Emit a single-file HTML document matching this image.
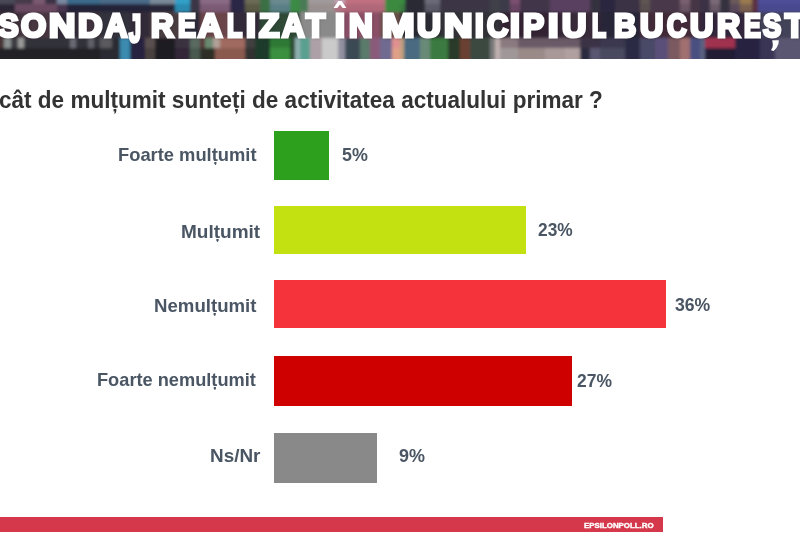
<!DOCTYPE html>
<html><head><meta charset="utf-8">
<style>
*{margin:0;padding:0;box-sizing:border-box}
html,body{width:800px;height:534px;overflow:hidden;background:#fff}
body{position:relative;font-family:"Liberation Sans",sans-serif}
#hdr{position:absolute;left:0;top:0;width:800px;height:58.5px;background:#3a3242;overflow:hidden}
#hdr svg{position:absolute;left:0;top:0}
#htxt{position:absolute;left:0;top:10.57px;width:800px;height:40px;color:#fff;font-weight:bold;font-size:33.5px;line-height:33.5px}
#htxt span{position:absolute;top:0;transform-origin:0 0;-webkit-text-stroke:3.2px #fff;white-space:nowrap;text-shadow:1px 1px 3px rgba(0,0,0,.45)}
.q{position:absolute;white-space:nowrap;color:#333;font-weight:bold;font-size:24.3px;line-height:28px;transform-origin:0 0}
.t{position:absolute;white-space:nowrap;color:#4a5664;font-weight:bold;font-size:18.5px;line-height:22px;transform-origin:0 0}
.bar{position:absolute;left:274px}
#foot{position:absolute;left:0;top:517px;width:662.6px;height:15.4px;background:#d4384a}
#ftxt{position:absolute;left:584px;top:520.5px;color:#fff;font-weight:bold;font-size:8px;line-height:10px;white-space:nowrap;-webkit-text-stroke:0.4px #fff;transform:scaleX(0.985);transform-origin:0 0}
</style></head><body>
<div id="hdr">
<svg width="820" height="78" viewBox="-10 -10 820 78" style="position:absolute;left:-10px;top:-10px"><defs><filter id="bl" x="-5%" y="-20%" width="110%" height="140%"><feGaussianBlur stdDeviation="1.5"/></filter></defs><g filter="url(#bl)"><rect x="-10" y="-10" width="25" height="14" fill="#4a4a58"/><rect x="15" y="-10" width="18" height="14" fill="#453a4a"/><rect x="33" y="-10" width="12" height="14" fill="#7a5a70"/><rect x="45" y="-10" width="12" height="14" fill="#3a3045"/><rect x="57" y="-10" width="10" height="14" fill="#7a88a0"/><rect x="67" y="-10" width="33" height="14" fill="#3a6a8a"/><rect x="100" y="-10" width="50" height="14" fill="#4a6a88"/><rect x="150" y="-10" width="25" height="14" fill="#7a8a9a"/><rect x="175" y="-10" width="15" height="14" fill="#30a0c8"/><rect x="190" y="-10" width="10" height="14" fill="#3a3545"/><rect x="200" y="-10" width="30" height="14" fill="#8a6a85"/><rect x="230" y="-10" width="15" height="14" fill="#2a2845"/><rect x="245" y="-10" width="15" height="14" fill="#6a6a55"/><rect x="260" y="-10" width="10" height="14" fill="#3a7045"/><rect x="270" y="-10" width="20" height="14" fill="#6a8a90"/><rect x="290" y="-10" width="10" height="14" fill="#3a8a45"/><rect x="300" y="-10" width="8" height="14" fill="#4a7a55"/><rect x="308" y="-10" width="27" height="14" fill="#a09a9a"/><rect x="335" y="-10" width="10" height="14" fill="#c0a0b0"/><rect x="345" y="-10" width="40" height="14" fill="#c07080"/><rect x="385" y="-10" width="15" height="14" fill="#3a8a40"/><rect x="400" y="-10" width="5" height="14" fill="#3a8a40"/><rect x="405" y="-10" width="20" height="14" fill="#2a2a35"/><rect x="425" y="-10" width="15" height="14" fill="#6a6a78"/><rect x="440" y="-10" width="50" height="14" fill="#3a3545"/><rect x="490" y="-10" width="10" height="14" fill="#40404a"/><rect x="500" y="-10" width="10" height="14" fill="#3a3a48"/><rect x="510" y="-10" width="10" height="14" fill="#7a5070"/><rect x="520" y="-10" width="30" height="14" fill="#40354a"/><rect x="550" y="-10" width="40" height="14" fill="#5a4060"/><rect x="590" y="-10" width="10" height="14" fill="#353040"/><rect x="600" y="-10" width="15" height="14" fill="#2a2840"/><rect x="615" y="-10" width="25" height="14" fill="#3a3045"/><rect x="640" y="-10" width="10" height="14" fill="#5e5452"/><rect x="650" y="-10" width="30" height="14" fill="#4a3848"/><rect x="680" y="-10" width="10" height="14" fill="#7a6070"/><rect x="690" y="-10" width="10" height="14" fill="#453545"/><rect x="700" y="-10" width="10" height="14" fill="#3a3045"/><rect x="710" y="-10" width="10" height="14" fill="#7a6a78"/><rect x="720" y="-10" width="10" height="14" fill="#353040"/><rect x="730" y="-10" width="10" height="14" fill="#6a5a5a"/><rect x="740" y="-10" width="12" height="14" fill="#9a7a50"/><rect x="752" y="-10" width="6" height="14" fill="#5a3040"/><rect x="758" y="-10" width="52" height="14" fill="#4d4d98"/><rect x="-10" y="4" width="25" height="8" fill="#2a2535"/><rect x="15" y="4" width="18" height="8" fill="#6a4a62"/><rect x="33" y="4" width="12" height="8" fill="#6a4a60"/><rect x="45" y="4" width="12" height="8" fill="#6a4a60"/><rect x="57" y="4" width="10" height="8" fill="#4a3550"/><rect x="67" y="4" width="33" height="8" fill="#222238"/><rect x="100" y="4" width="50" height="8" fill="#222238"/><rect x="150" y="4" width="25" height="8" fill="#262638"/><rect x="175" y="4" width="15" height="8" fill="#2a8ab0"/><rect x="190" y="4" width="10" height="8" fill="#3a3545"/><rect x="200" y="4" width="30" height="8" fill="#7a5a75"/><rect x="230" y="4" width="15" height="8" fill="#2a2845"/><rect x="245" y="4" width="15" height="8" fill="#5a5a45"/><rect x="260" y="4" width="10" height="8" fill="#3a7045"/><rect x="270" y="4" width="20" height="8" fill="#5a8085"/><rect x="290" y="4" width="10" height="8" fill="#3a8a45"/><rect x="300" y="4" width="8" height="8" fill="#4a7a55"/><rect x="308" y="4" width="27" height="8" fill="#9a9090"/><rect x="335" y="4" width="10" height="8" fill="#b07080"/><rect x="345" y="4" width="40" height="8" fill="#b06878"/><rect x="385" y="4" width="15" height="8" fill="#3a8a40"/><rect x="400" y="4" width="5" height="8" fill="#3a7a40"/><rect x="405" y="4" width="20" height="8" fill="#2a2a35"/><rect x="425" y="4" width="15" height="8" fill="#5a5a68"/><rect x="440" y="4" width="50" height="8" fill="#3a3545"/><rect x="490" y="4" width="10" height="8" fill="#40404a"/><rect x="500" y="4" width="10" height="8" fill="#3a3a48"/><rect x="510" y="4" width="10" height="8" fill="#6a4565"/><rect x="520" y="4" width="30" height="8" fill="#40354a"/><rect x="550" y="4" width="40" height="8" fill="#5a4060"/><rect x="590" y="4" width="10" height="8" fill="#353040"/><rect x="600" y="4" width="15" height="8" fill="#2a2840"/><rect x="615" y="4" width="25" height="8" fill="#3a3045"/><rect x="640" y="4" width="10" height="8" fill="#5a5050"/><rect x="650" y="4" width="30" height="8" fill="#4a3848"/><rect x="680" y="4" width="10" height="8" fill="#6a5565"/><rect x="690" y="4" width="10" height="8" fill="#453545"/><rect x="700" y="4" width="10" height="8" fill="#3a3045"/><rect x="710" y="4" width="10" height="8" fill="#6a5a68"/><rect x="720" y="4" width="10" height="8" fill="#353040"/><rect x="730" y="4" width="10" height="8" fill="#5a4a5a"/><rect x="740" y="4" width="12" height="8" fill="#7a6050"/><rect x="752" y="4" width="6" height="8" fill="#5a3040"/><rect x="758" y="4" width="52" height="8" fill="#4a4a90"/><rect x="-10" y="12" width="30" height="26" fill="#3a2e38"/><rect x="20" y="12" width="30" height="26" fill="#46343f"/><rect x="50" y="12" width="30" height="26" fill="#322a38"/><rect x="80" y="12" width="20" height="26" fill="#40323c"/><rect x="100" y="12" width="30" height="26" fill="#32323c"/><rect x="130" y="12" width="20" height="26" fill="#322a38"/><rect x="150" y="12" width="30" height="26" fill="#4a3c40"/><rect x="180" y="12" width="20" height="26" fill="#2a2a38"/><rect x="200" y="12" width="30" height="26" fill="#6a4448"/><rect x="230" y="12" width="30" height="26" fill="#322a38"/><rect x="260" y="12" width="40" height="26" fill="#2e4a36"/><rect x="300" y="12" width="40" height="26" fill="#8a8a8a"/><rect x="340" y="12" width="40" height="26" fill="#8a5066"/><rect x="380" y="12" width="20" height="26" fill="#6a5048"/><rect x="400" y="12" width="40" height="26" fill="#2a2a32"/><rect x="440" y="12" width="60" height="26" fill="#323238"/><rect x="500" y="12" width="60" height="26" fill="#322432"/><rect x="560" y="12" width="40" height="26" fill="#382a38"/><rect x="600" y="12" width="40" height="26" fill="#262638"/><rect x="640" y="12" width="60" height="26" fill="#422a38"/><rect x="700" y="12" width="60" height="26" fill="#32263e"/><rect x="760" y="12" width="50" height="26" fill="#424258"/><rect x="-10" y="38" width="14" height="10" fill="#4a3535"/><rect x="4" y="38" width="7" height="10" fill="#8a9090"/><rect x="11" y="38" width="7" height="10" fill="#3a3a40"/><rect x="18" y="38" width="6" height="10" fill="#9a9a9a"/><rect x="24" y="38" width="46" height="10" fill="#30303a"/><rect x="70" y="38" width="6" height="10" fill="#6a6a75"/><rect x="76" y="38" width="12" height="10" fill="#30303a"/><rect x="88" y="38" width="6" height="10" fill="#60606a"/><rect x="94" y="38" width="6" height="10" fill="#30303a"/><rect x="100" y="38" width="12" height="10" fill="#5a5a5e"/><rect x="112" y="38" width="8" height="10" fill="#2a2a30"/><rect x="120" y="38" width="10" height="10" fill="#3a8ab0"/><rect x="130" y="38" width="15" height="10" fill="#252040"/><rect x="145" y="38" width="10" height="10" fill="#5a5050"/><rect x="155" y="38" width="20" height="10" fill="#1e1e24"/><rect x="175" y="38" width="15" height="10" fill="#3a3040"/><rect x="190" y="38" width="10" height="10" fill="#5a6a60"/><rect x="200" y="38" width="5" height="10" fill="#5a3a3a"/><rect x="205" y="38" width="8" height="10" fill="#6a8a70"/><rect x="213" y="38" width="7" height="10" fill="#b0a098"/><rect x="220" y="38" width="25" height="10" fill="#a06a60"/><rect x="245" y="38" width="10" height="10" fill="#404040"/><rect x="255" y="38" width="15" height="10" fill="#1e3a2a"/><rect x="270" y="38" width="20" height="10" fill="#2e7a34"/><rect x="290" y="38" width="5" height="10" fill="#2a4a30"/><rect x="295" y="38" width="5" height="10" fill="#90b0b0"/><rect x="300" y="38" width="10" height="10" fill="#5aa090"/><rect x="310" y="38" width="12" height="10" fill="#ada0a6"/><rect x="322" y="38" width="16" height="10" fill="#cacaca"/><rect x="338" y="38" width="7" height="10" fill="#9090a0"/><rect x="345" y="38" width="15" height="10" fill="#3a4a55"/><rect x="360" y="38" width="10" height="10" fill="#5a7a6a"/><rect x="370" y="38" width="10" height="10" fill="#8a5a7a"/><rect x="380" y="38" width="12" height="10" fill="#706a90"/><rect x="392" y="38" width="8" height="10" fill="#e09090"/><rect x="400" y="38" width="4" height="10" fill="#c0a080"/><rect x="404" y="38" width="16" height="10" fill="#4a6a80"/><rect x="420" y="38" width="10" height="10" fill="#6a8a78"/><rect x="430" y="38" width="18" height="10" fill="#3a7a40"/><rect x="448" y="38" width="12" height="10" fill="#2a3a2a"/><rect x="460" y="38" width="10" height="10" fill="#6a4030"/><rect x="470" y="38" width="20" height="10" fill="#3a4a40"/><rect x="490" y="38" width="5" height="10" fill="#7a7a7a"/><rect x="495" y="38" width="5" height="10" fill="#c0b0b0"/><rect x="500" y="38" width="18" height="10" fill="#8a7a80"/><rect x="518" y="38" width="62" height="10" fill="#6a5a68"/><rect x="580" y="38" width="20" height="10" fill="#3a3045"/><rect x="600" y="38" width="25" height="10" fill="#3a3850"/><rect x="625" y="38" width="15" height="10" fill="#2a2a45"/><rect x="640" y="38" width="15" height="10" fill="#4a4a68"/><rect x="655" y="38" width="13" height="10" fill="#5a5078"/><rect x="668" y="38" width="12" height="10" fill="#7a5a60"/><rect x="680" y="38" width="10" height="10" fill="#a07070"/><rect x="690" y="38" width="10" height="10" fill="#4a5080"/><rect x="700" y="38" width="5" height="10" fill="#5a6080"/><rect x="705" y="38" width="30" height="10" fill="#a03050"/><rect x="735" y="38" width="25" height="10" fill="#252040"/><rect x="760" y="38" width="15" height="10" fill="#3a3555"/><rect x="775" y="38" width="35" height="10" fill="#5a5570"/><rect x="-10" y="48" width="110" height="20" fill="#222228"/><rect x="100" y="48" width="12" height="20" fill="#2a2a30"/><rect x="112" y="48" width="8" height="20" fill="#2a2a30"/><rect x="120" y="48" width="10" height="20" fill="#3a8ab0"/><rect x="130" y="48" width="15" height="20" fill="#252040"/><rect x="145" y="48" width="10" height="20" fill="#4a4040"/><rect x="155" y="48" width="20" height="20" fill="#1a1a20"/><rect x="175" y="48" width="15" height="20" fill="#302838"/><rect x="190" y="48" width="10" height="20" fill="#4a5a50"/><rect x="200" y="48" width="15" height="20" fill="#2e2e28"/><rect x="215" y="48" width="30" height="20" fill="#8a5a50"/><rect x="245" y="48" width="10" height="20" fill="#303030"/><rect x="255" y="48" width="15" height="20" fill="#1e3a2a"/><rect x="270" y="48" width="20" height="20" fill="#3a9040"/><rect x="290" y="48" width="5" height="20" fill="#2a4a30"/><rect x="295" y="48" width="5" height="20" fill="#90b0b0"/><rect x="300" y="48" width="10" height="20" fill="#5aa090"/><rect x="310" y="48" width="12" height="20" fill="#ada0a6"/><rect x="322" y="48" width="16" height="20" fill="#cacaca"/><rect x="338" y="48" width="7" height="20" fill="#9090a0"/><rect x="345" y="48" width="15" height="20" fill="#3a4a55"/><rect x="360" y="48" width="10" height="20" fill="#5a7a6a"/><rect x="370" y="48" width="10" height="20" fill="#8a5a7a"/><rect x="380" y="48" width="12" height="20" fill="#706a90"/><rect x="392" y="48" width="8" height="20" fill="#e0a088"/><rect x="400" y="48" width="4" height="20" fill="#c0a080"/><rect x="404" y="48" width="16" height="20" fill="#4a6a80"/><rect x="420" y="48" width="10" height="20" fill="#6a8a78"/><rect x="430" y="48" width="18" height="20" fill="#3a7a40"/><rect x="448" y="48" width="12" height="20" fill="#2a3a2a"/><rect x="460" y="48" width="10" height="20" fill="#6a4030"/><rect x="470" y="48" width="20" height="20" fill="#3a4a40"/><rect x="490" y="48" width="5" height="20" fill="#7a7a7a"/><rect x="495" y="48" width="5" height="20" fill="#c0b0b0"/><rect x="500" y="48" width="18" height="20" fill="#a09898"/><rect x="518" y="48" width="27" height="20" fill="#9a8a88"/><rect x="545" y="48" width="20" height="20" fill="#a89898"/><rect x="565" y="48" width="15" height="20" fill="#b0a0a0"/><rect x="580" y="48" width="10" height="20" fill="#2a2a40"/><rect x="590" y="48" width="10" height="20" fill="#5a5570"/><rect x="600" y="48" width="25" height="20" fill="#4a4860"/><rect x="625" y="48" width="15" height="20" fill="#2a2a45"/><rect x="640" y="48" width="15" height="20" fill="#4a4a68"/><rect x="655" y="48" width="13" height="20" fill="#5a5078"/><rect x="668" y="48" width="12" height="20" fill="#7a5a60"/><rect x="680" y="48" width="10" height="20" fill="#a07070"/><rect x="690" y="48" width="10" height="20" fill="#4a5080"/><rect x="700" y="48" width="5" height="20" fill="#5a6080"/><rect x="705" y="48" width="30" height="20" fill="#201a35"/><rect x="735" y="48" width="25" height="20" fill="#252040"/><rect x="760" y="48" width="15" height="20" fill="#3a3555"/><rect x="775" y="48" width="35" height="20" fill="#5a5570"/></g></svg>
<svg width="800" height="58" style="position:absolute;left:0;top:0"><path d="M772.2,40.3 L778.8,40.3 L778.4,44 Q777,48.3 773.6,51 L771,50.2 Q773.4,46.5 772.8,44 Z" fill="#fff"/><path d="M333.5,7.9 L338.3,0.9 L341.7,0.9 L346.4,7.9 L342.6,7.9 L340,4.6 L337.4,7.9 Z" fill="#fff"/></svg><div id="htxt" style="top:9.24px"><span style="left:-2.45px;transform:scaleX(0.923)">S</span><span style="left:20.65px;transform:scaleX(0.967)">O</span><span style="left:48.87px;transform:scaleX(1.089)">N</span><span style="left:77.92px;transform:scaleX(1.012)">D</span><span style="left:104.91px;transform:scaleX(0.928)">A</span><span style="left:129.41px;transform:scale(0.644,1.17)">J</span><span style="left:151.46px;transform:scaleX(0.940)">R</span><span style="left:178.34px;transform:scaleX(0.800)">E</span><span style="left:197.77px;transform:scaleX(1.006)">A</span><span style="left:226.77px;transform:scaleX(0.748)">L</span><span style="left:245.89px;transform:scaleX(1.055)">I</span><span style="left:259.39px;transform:scaleX(0.994)">Z</span><span style="left:282.21px;transform:scaleX(0.928)">A</span><span style="left:306.18px;transform:scaleX(0.936)">T</span><span style="left:334.78px;transform:scaleX(1.067)">I</span><span style="left:349.43px;transform:scaleX(0.980)">N</span><span style="left:382.33px;transform:scaleX(1.163)">M</span><span style="left:416.60px;transform:scaleX(0.987)">U</span><span style="left:444.32px;transform:scaleX(1.176)">N</span><span style="left:475.46px;transform:scaleX(0.931)">I</span><span style="left:487.23px;transform:scaleX(0.875)">C</span><span style="left:509.89px;transform:scaleX(1.055)">I</span><span style="left:523.46px;transform:scaleX(0.942)">P</span><span style="left:548.35px;transform:scaleX(1.117)">I</span><span style="left:562.09px;transform:scaleX(1.009)">U</span><span style="left:592.10px;transform:scaleX(0.685)">L</span><span style="left:614.47px;transform:scaleX(0.918)">B</span><span style="left:640.10px;transform:scaleX(0.966)">U</span><span style="left:666.91px;transform:scaleX(0.807)">C</span><span style="left:689.60px;transform:scaleX(0.966)">U</span><span style="left:716.95px;transform:scaleX(0.960)">R</span><span style="left:743.57px;transform:scaleX(0.750)">E</span><span style="left:763.49px;transform:scaleX(0.815)">S</span><span style="left:785.40px;transform:scaleX(0.949)">T</span></div>
</div>
<div class="bar" style="top:131.4px;width:55px;height:48.6px;background:#2da01d"></div>
<div class="bar" style="top:205.5px;width:251.5px;height:48.5px;background:#c3e011"></div>
<div class="bar" style="top:280px;width:392px;height:48.4px;background:#f5333b"></div>
<div class="bar" style="top:355.5px;width:297.5px;height:50px;background:#ce0000"></div>
<div class="bar" style="top:432.5px;width:103px;height:50.5px;background:#898989"></div>
<div class="q" style="left:-0.93px;top:86.00px;transform:scaleX(0.9279)">cât de mulțumit sunteți de activitatea actualului primar ?</div>
<div class="t" style="left:118.01px;top:143.75px;transform:scaleX(0.9909)">Foarte mulțumit</div>
<div class="t" style="left:180.87px;top:220.90px;transform:scaleX(1.0276)">Mulțumit</div>
<div class="t" style="left:153.99px;top:294.65px;transform:scaleX(1.0070)">Nemulțumit</div>
<div class="t" style="left:96.92px;top:368.90px;transform:scaleX(0.9844)">Foarte nemulțumit</div>
<div class="t" style="left:209.98px;top:444.80px;transform:scaleX(1.0208)">Ns/Nr</div>
<div class="t" style="left:341.78px;top:143.90px;transform:scaleX(0.9660)">5%</div>
<div class="t" style="left:538.06px;top:218.90px;transform:scaleX(0.9361)">23%</div>
<div class="t" style="left:675.45px;top:294.20px;transform:scaleX(0.9528)">36%</div>
<div class="t" style="left:577.06px;top:369.90px;transform:scaleX(0.9444)">27%</div>
<div class="t" style="left:399.43px;top:445.10px;transform:scaleX(0.9720)">9%</div>
<div id="foot"></div>
<div id="ftxt">EPSILONPOLL.RO</div>
</body></html>
